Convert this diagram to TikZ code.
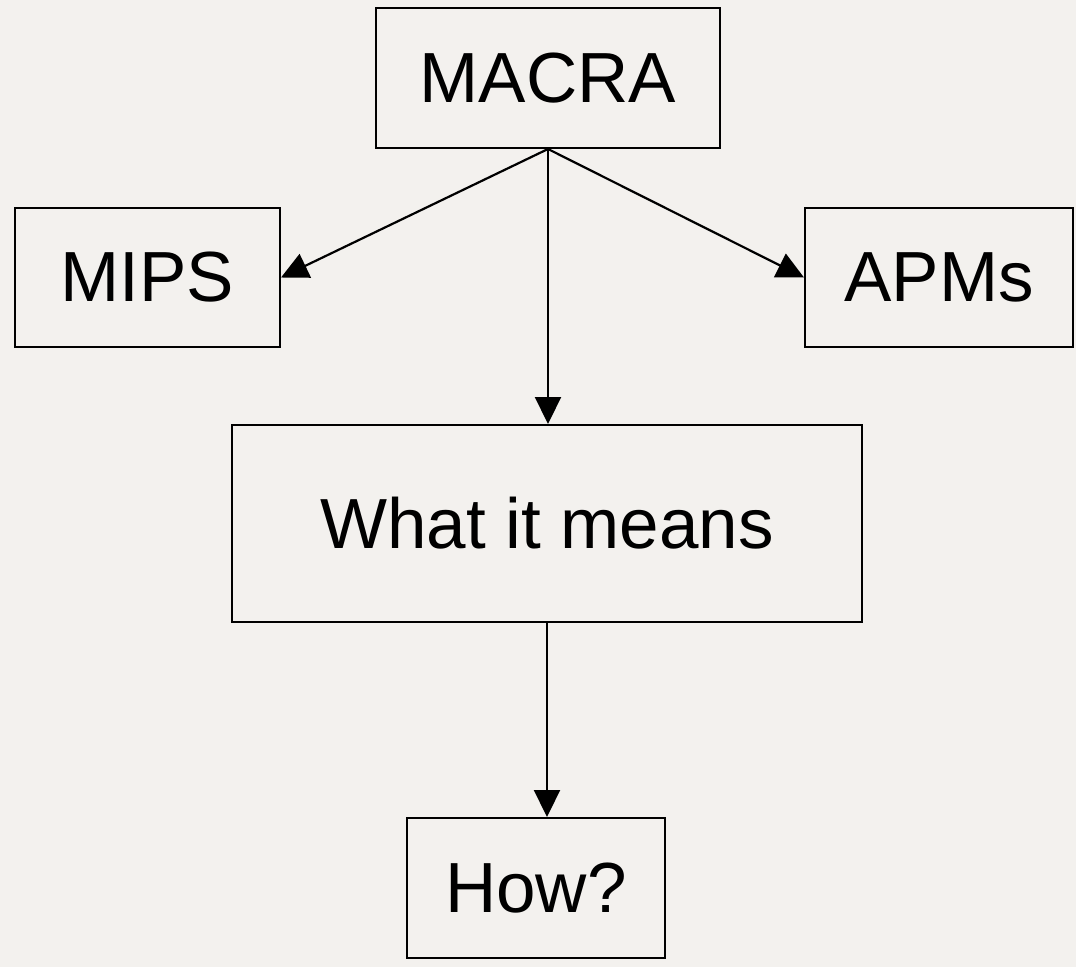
\documentclass[tikz,border=0pt]{standalone}
\usepackage{fontspec}
\setmainfont{Liberation Sans}
\usetikzlibrary{arrows.meta}
\definecolor{bgc}{RGB}{243,241,238}
\tikzset{
  box/.style={draw=black, line width=2pt, rectangle, inner sep=0pt, font=\fontsize{71}{78}\selectfont},
  conn/.style={line width=2.2pt, -{Triangle[length=27pt,width=26pt]}}
}
\begin{document}
\begin{tikzpicture}[x=1pt,y=-1pt]
\fill[bgc] (0,0) rectangle (1076,967);
\useasboundingbox (0,0) rectangle (1076,967);
\node[box, minimum width=344pt, minimum height=140pt] (macra) at (548,78) {MACRA};
\node[box, minimum width=265pt, minimum height=139pt] (mips) at (147.5,277.5) {MIPS};
\node[box, minimum width=268pt, minimum height=139pt] (apms) at (939,277.5) {APMs};
\node[box, minimum width=630pt, minimum height=197pt] (what) at (547,523.5) {What it means};
\node[box, minimum width=258pt, minimum height=140pt] (how) at (536,888) {How?};
\draw[conn] (macra.south) -- (mips.east);
\draw[conn] (macra.south) -- (apms.west);
\draw[conn] (macra.south) -- (macra.south |- what.north);
\draw[conn] (what.south) -- (what.south |- how.north);
\end{tikzpicture}
\end{document}
